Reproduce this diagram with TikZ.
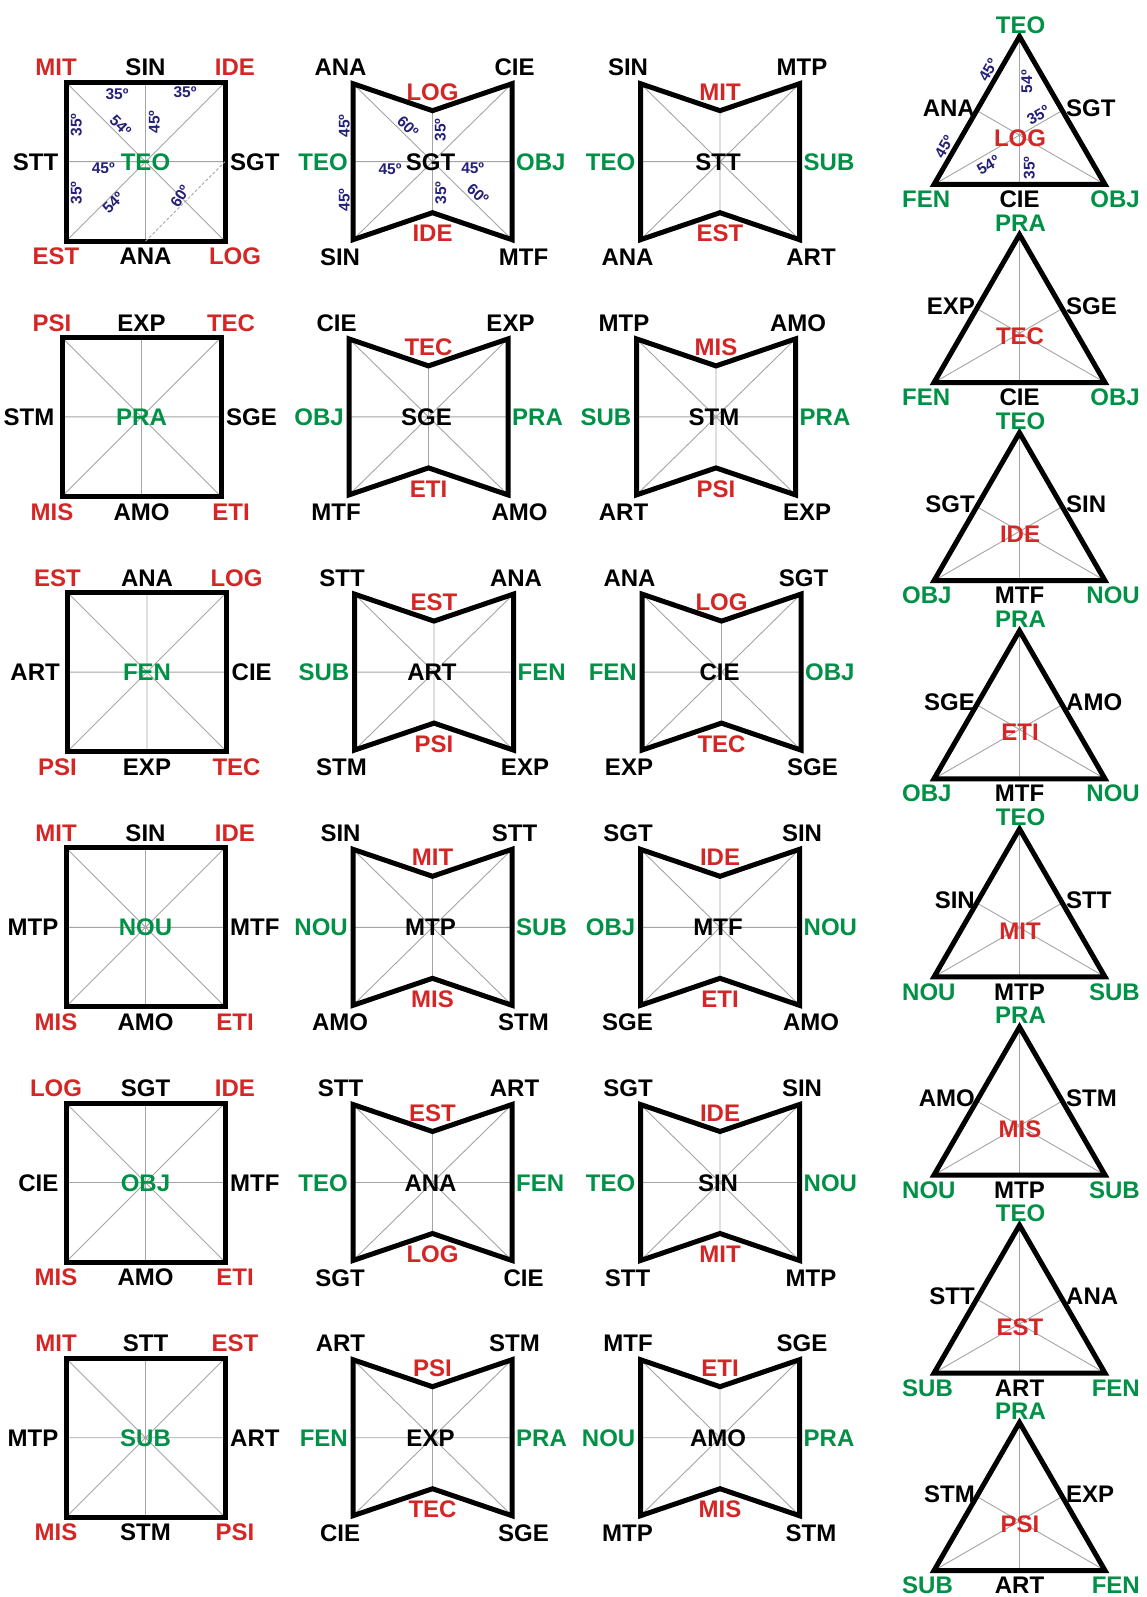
\documentclass[tikz,border=0pt]{standalone}
\usepackage{fontspec}
\setmainfont{Liberation Sans}
\definecolor{cred}{RGB}{213,38,38}
\definecolor{cgreen}{RGB}{0,145,70}
\definecolor{cnavy}{RGB}{36,32,118}
\definecolor{cthin}{RGB}{165,165,165}
\tikzset{
  lbl/.style={font=\fontsize{24}{26}\selectfont\bfseries, inner sep=0pt, text height=17.2pt, text depth=0pt},
  ang/.style={font=\fontsize{15.5}{17}\selectfont\bfseries, text=cnavy, inner sep=0pt, text height=11pt, text depth=0pt},
  border/.style={line width=5pt, line join=miter, black},
  thinl/.style={line width=0.9pt, cthin},
  dashl/.style={line width=0.8pt, cthin, dash pattern=on 3pt off 2pt},
}
% square: TL T TR L C R BL B BR
\newcommand\sqfig[9]{%
  \begin{scope}[shift={(\cx,\cy)}]
    \coordinate (\pfx-p1) at (-79.5,-79.5);
    \coordinate (\pfx-p2) at (79.5,-79.5);
    \coordinate (\pfx-p3) at (79.5,79.5);
    \coordinate (\pfx-p4) at (-79.5,79.5);
    \coordinate (\pfx-m1) at (0,-79.5);
    \coordinate (\pfx-m2) at (79.5,0);
    \coordinate (\pfx-m3) at (0,79.5);
    \coordinate (\pfx-m4) at (-79.5,0);
    \draw[thinl] (\pfx-p1) -- (\pfx-p3) (\pfx-p2) -- (\pfx-p4)
                 (\pfx-m1) -- (\pfx-m3) (\pfx-m4) -- (\pfx-m2);
    \draw[border] (\pfx-p1) -- (\pfx-p2) -- (\pfx-p3) -- (\pfx-p4) -- cycle;
    \node[lbl,text=cred] (\pfx-tl) at (-89.5,-94.5) {#1};
    \node[lbl] (\pfx-t) at (0,-94.5) {#2};
    \node[lbl,text=cred] (\pfx-tr) at (89.5,-94.5) {#3};
    \node[lbl,anchor=east] (\pfx-l) at (-87,0) {#4};
    \node[lbl,text=cgreen] (\pfx-c) at (0,0) {#5};
    \node[lbl,anchor=west] (\pfx-r) at (84.5,0) {#6};
    \node[lbl,text=cred] (\pfx-bl) at (-89.5,94.5) {#7};
    \node[lbl] (\pfx-b) at (0,94.5) {#8};
    \node[lbl,text=cred] (\pfx-br) at (89.5,94.5) {#9};
  \end{scope}}
% bowtie: TL TR topnotch L C R BL bottomnotch BR
\newcommand\bwfig[9]{%
  \begin{scope}[shift={(\cx,\cy)}]
    \coordinate (\pfx-a) at (-79.5,-78);
    \coordinate (\pfx-b) at (79.5,-78);
    \coordinate (\pfx-c) at (79.5,78);
    \coordinate (\pfx-d) at (-79.5,78);
    \coordinate (\pfx-n1) at (0,-51);
    \coordinate (\pfx-n2) at (0,51);
    \coordinate (\pfx-lm) at (-79.5,0);
    \coordinate (\pfx-rm) at (79.5,0);
    \draw[thinl] (\pfx-a) -- (\pfx-c) (\pfx-b) -- (\pfx-d)
                 (\pfx-lm) -- (\pfx-rm) (\pfx-n1) -- (\pfx-n2);
    \draw[border] (\pfx-a) -- (\pfx-n1) -- (\pfx-b) -- (\pfx-c) -- (\pfx-n2) -- (\pfx-d) -- cycle;
    \node[lbl] (\pfx-tl) at (-92,-94.5) {#1};
    \node[lbl] (\pfx-tr) at (82,-94.5) {#2};
    \node[lbl,text=cred] (\pfx-tn) at (0,-70) {#3};
    \node[lbl,text=cgreen,anchor=east] (\pfx-l) at (-84.5,0) {#4};
    \node[lbl] (\pfx-ctr) at (-2,0) {#5};
    \node[lbl,text=cgreen,anchor=west] (\pfx-r) at (83.5,0) {#6};
    \node[lbl] (\pfx-bl) at (-92.5,95) {#7};
    \node[lbl,text=cred] (\pfx-bn) at (0,71.5) {#8};
    \node[lbl] (\pfx-br) at (91,95) {#9};
  \end{scope}}
% triangle: top L R C BL BM BR
\newcommand\trfig[7]{%
  \begin{scope}[shift={(\cx,\cy)}]
    \coordinate (\pfx-A) at (0,-148);
    \coordinate (\pfx-L) at (-85.5,0);
    \coordinate (\pfx-R) at (85.5,0);
    \coordinate (\pfx-bm) at (0,0);
    \coordinate (\pfx-lm) at (-42.75,-74);
    \coordinate (\pfx-rm) at (42.75,-74);
    \draw[thinl] (\pfx-A) -- (\pfx-bm) (\pfx-L) -- (\pfx-rm) (\pfx-R) -- (\pfx-lm);
    \draw[border] (\pfx-A) -- (\pfx-L) -- (\pfx-R) -- cycle;
    \node[lbl,text=cgreen] (\pfx-t) at (1,-160) {#1};
    \node[lbl,anchor=east] (\pfx-l) at (-44.5,-77) {#2};
    \node[lbl,anchor=west] (\pfx-r) at (46.5,-77) {#3};
    \node[lbl,text=cred] (\pfx-c) at (0.5,-46.5) {#4};
    \node[lbl,text=cgreen,anchor=west] (\pfx-bl) at (-117.5,14.5) {#5};
    \node[lbl] (\pfx-b) at (0,14.5) {#6};
    \node[lbl,text=cgreen,anchor=east] (\pfx-br) at (120.5,14.5) {#7};
  \end{scope}}
\begin{document}
\begin{tikzpicture}[x=1pt,y=-1pt]
\useasboundingbox (0,0) rectangle (1146,1597);
\fill[white] (0,0) rectangle (1146,1597);
% ---------- row 1
\def\cy{161.7}
\def\cx{145.5}\def\pfx{s1}\sqfig{MIT}{SIN}{IDE}{STT}{TEO}{SGT}{EST}{ANA}{LOG}
\def\cx{432.5}\def\pfx{b1}\bwfig{ANA}{CIE}{LOG}{TEO}{SGT}{OBJ}{SIN}{IDE}{MTF}
\def\cx{720}\def\pfx{c1}\bwfig{SIN}{MTP}{MIT}{TEO}{STT}{SUB}{ANA}{EST}{ART}
% ---------- row 2
\def\cy{416.9}
\def\cx{141.5}\def\pfx{s2}\sqfig{PSI}{EXP}{TEC}{STM}{PRA}{SGE}{MIS}{AMO}{ETI}
\def\cx{428.5}\def\pfx{b2}\bwfig{CIE}{EXP}{TEC}{OBJ}{SGE}{PRA}{MTF}{ETI}{AMO}
\def\cx{716}\def\pfx{c2}\bwfig{MTP}{AMO}{MIS}{SUB}{STM}{PRA}{ART}{PSI}{EXP}
% ---------- row 3
\def\cy{672.1}
\def\cx{147}\def\pfx{s3}\sqfig{EST}{ANA}{LOG}{ART}{FEN}{CIE}{PSI}{EXP}{TEC}
\def\cx{434}\def\pfx{b3}\bwfig{STT}{ANA}{EST}{SUB}{ART}{FEN}{STM}{PSI}{EXP}
\def\cx{721.5}\def\pfx{c3}\bwfig{ANA}{SGT}{LOG}{FEN}{CIE}{OBJ}{EXP}{TEC}{SGE}
% ---------- row 4
\def\cy{927.3}
\def\cx{145.5}\def\pfx{s4}\sqfig{MIT}{SIN}{IDE}{MTP}{NOU}{MTF}{MIS}{AMO}{ETI}
\def\cx{432.5}\def\pfx{b4}\bwfig{SIN}{STT}{MIT}{NOU}{MTP}{SUB}{AMO}{MIS}{STM}
\def\cx{720}\def\pfx{c4}\bwfig{SGT}{SIN}{IDE}{OBJ}{MTF}{NOU}{SGE}{ETI}{AMO}
% ---------- row 5
\def\cy{1182.5}
\def\cx{145.5}\def\pfx{s5}\sqfig{LOG}{SGT}{IDE}{CIE}{OBJ}{MTF}{MIS}{AMO}{ETI}
\def\cx{432.5}\def\pfx{b5}\bwfig{STT}{ART}{EST}{TEO}{ANA}{FEN}{SGT}{LOG}{CIE}
\def\cx{720}\def\pfx{c5}\bwfig{SGT}{SIN}{IDE}{TEO}{SIN}{NOU}{STT}{MIT}{MTP}
% ---------- row 6
\def\cy{1437.7}
\def\cx{145.5}\def\pfx{s6}\sqfig{MIT}{STT}{EST}{MTP}{SUB}{ART}{MIS}{STM}{PSI}
\def\cx{432.5}\def\pfx{b6}\bwfig{ART}{STM}{PSI}{FEN}{EXP}{PRA}{CIE}{TEC}{SGE}
\def\cx{720}\def\pfx{c6}\bwfig{MTF}{SGE}{ETI}{NOU}{AMO}{PRA}{MTP}{MIS}{STM}
% ---------- triangles
\def\cx{1019.5}
\def\cy{184.5}\def\pfx{t1}\trfig{TEO}{ANA}{SGT}{LOG}{FEN}{CIE}{OBJ}
\def\cy{382.6}\def\pfx{t2}\trfig{PRA}{EXP}{SGE}{TEC}{FEN}{CIE}{OBJ}
\def\cy{580.7}\def\pfx{t3}\trfig{TEO}{SGT}{SIN}{IDE}{OBJ}{MTF}{NOU}
\def\cy{778.8}\def\pfx{t4}\trfig{PRA}{SGE}{AMO}{ETI}{OBJ}{MTF}{NOU}
\def\cy{976.9}\def\pfx{t5}\trfig{TEO}{SIN}{STT}{MIT}{NOU}{MTP}{SUB}
\def\cy{1175}\def\pfx{t6}\trfig{PRA}{AMO}{STM}{MIS}{NOU}{MTP}{SUB}
\def\cy{1373.1}\def\pfx{t7}\trfig{TEO}{STT}{ANA}{EST}{SUB}{ART}{FEN}
\def\cy{1570.5}\def\pfx{t8}\trfig{PRA}{STM}{EXP}{PSI}{SUB}{ART}{FEN}
% ---------- angle marks, square 1
\draw[dashl] (s1-m3) -- (s1-m2);
\node[ang] (a1) at (117,94) {35º};
\node[ang] (a2) at (185,92) {35º};
\node[ang,rotate=90] (a3) at (76,125) {35º};
\node[ang,rotate=-45] (a4) at (120.7,126) {54º};
\node[ang,rotate=90] (a5) at (154,122) {45º};
\node[ang] (a6) at (103.3,168) {45º};
\node[ang,rotate=90] (a7) at (76,193) {35º};
\node[ang,rotate=45] (a8) at (113,203) {54º};
\node[ang,rotate=58] (a9) at (180,196) {60º};
% ---------- angle marks, bowtie 1
\node[ang,rotate=90] (a10) at (344,126) {45º};
\node[ang,rotate=-45] (a11) at (408,127) {60º};
\node[ang,rotate=90] (a12) at (440,130) {35º};
\node[ang] (a13) at (390,169) {45º};
\node[ang] (a14) at (472.7,168) {45º};
\node[ang,rotate=90] (a15) at (344,200) {45º};
\node[ang,rotate=90] (a16) at (440.7,193) {35º};
\node[ang,rotate=-42] (a17) at (478,194) {60º};
% ---------- angle marks, triangle 1
\node[ang,rotate=60] (a18) at (988,70) {45º};
\node[ang,rotate=90] (a19) at (1026.7,81.7) {54º};
\node[ang,rotate=30] (a20) at (1038,115) {35º};
\node[ang,rotate=60] (a21) at (944,146.7) {45º};
\node[ang,rotate=30] (a22) at (988,165) {54º};
\node[ang,rotate=90] (a23) at (1029,168) {35º};
\end{tikzpicture}
\end{document}
